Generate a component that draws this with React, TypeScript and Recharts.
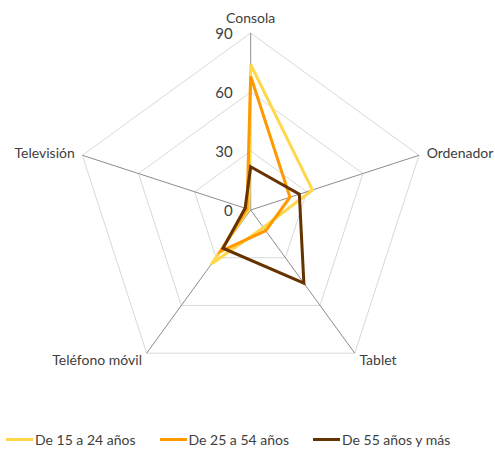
import React from 'react';
import { RadarChart, Radar, PolarGrid, PolarAngleAxis, PolarRadiusAxis, Legend } from 'recharts';

const DEVICES = ["Consola", "Ordenador", "Tablet", "Teléfono móvil", "Televisión"];
const AGE_15_24 = [74, 33, 11, 34, 1];
const AGE_25_54 = [68, 21, 13, 26, 2];
const AGE_55_PLUS = [22, 26, 46, 24, 3];
const RADIUS_TICKS = [0, 30, 60, 90];

const SERIES = [
    { key: "a", name: "De 15 a 24 años", color: "#FFD84A", values: AGE_15_24 },
    { key: "b", name: "De 25 a 54 años", color: "#FF9900", values: AGE_25_54 },
    { key: "c", name: "De 55 años y más", color: "#663300", values: AGE_55_PLUS },
];

const data = DEVICES.map((device, i) => {
    const row: Record<string, any> = { device };
    SERIES.forEach(s => { row[s.key] = s.values[i]; });
    return row;
});

const FONT = 'Lato, "Open Sans", sans-serif';
const TEXT = "#404040";

function AngleTick(props: any) {
    const { x, y, textAnchor, payload } = props;
    const isTop = textAnchor === "middle";
    return (
        <text
            x={x}
            y={isTop ? y - 2 : y}
            textAnchor={textAnchor}
            dominantBaseline={isTop ? "auto" : "central"}
            fontFamily={FONT}
            fontSize={14}
            fill={TEXT}
        >
            {payload.value}
        </text>
    );
}

function RadiusTick(props: any) {
    const { x, y, payload } = props;
    return (
        <text x={x - 18} y={y} textAnchor="end" dominantBaseline="central" fontFamily={FONT} fontSize={15} fill={TEXT}>
            {payload.value}
        </text>
    );
}

function LegendContent() {
    return (
        <div style={{ display: 'flex', alignItems: 'center', paddingLeft: 6, fontFamily: FONT, fontSize: 14, color: TEXT }}>
            {SERIES.map((s, i) => (
                <div key={s.key} style={{ display: 'flex', alignItems: 'center', marginRight: i < SERIES.length - 1 ? 24 : 0 }}>
                    <span style={{ display: 'inline-block', width: 27, height: 3, background: s.color, marginRight: 2 }} />
                    <span>{s.name}</span>
                </div>
            ))}
        </div>
    );
}

export default function App() {
    return (
        <div style={{ position: 'absolute', left: 0, top: 0, width: 495, height: 450, background: '#fff' }}>
            <RadarChart
                width={495}
                height={450}
                data={data}
                cx={250.7}
                cy={210}
                outerRadius={177}
                margin={{ top: 0, right: 0, bottom: 0, left: 0 }}
            >
                <PolarGrid gridType="polygon" radialLines={false} stroke="#D9D9D9" strokeWidth={1} />
                <PolarGrid gridType="polygon" polarRadius={[0]} stroke="#8C8C8C" strokeWidth={1} />
                <PolarAngleAxis dataKey="device" axisLine={false} tickLine={false} tick={<AngleTick />} />
                <PolarRadiusAxis
                    angle={90}
                    domain={[0, 90]}
                    ticks={RADIUS_TICKS}
                    axisLine={false}
                    tickLine={false}
                    tick={<RadiusTick />}
                />
                {SERIES.map(s => (
                    <Radar
                        key={s.key}
                        dataKey={s.key}
                        name={s.name}
                        stroke={s.color}
                        strokeWidth={3}
                        fill="none"
                        fillOpacity={0}
                        dot={false}
                        isAnimationActive={false}
                    />
                ))}
                <Legend
                    content={<LegendContent />}
                    wrapperStyle={{ position: 'absolute', left: 0, top: 431, width: 495 }}
                />
            </RadarChart>
        </div>
    );
}
